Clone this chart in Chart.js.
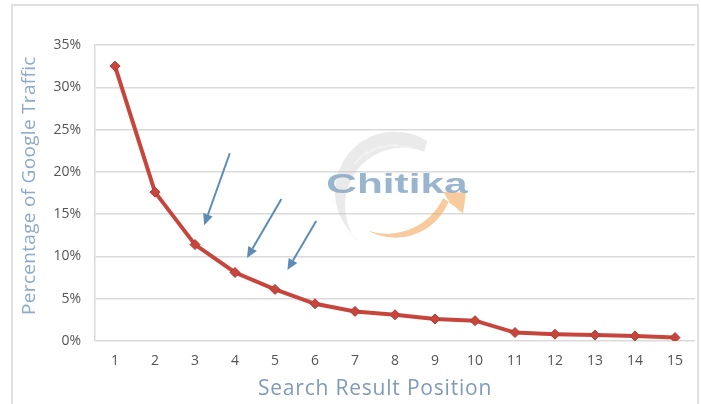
<!DOCTYPE html>
<html>
<head>
<meta charset="utf-8">
<script src="https://cdn.jsdelivr.net/npm/chart.js@4.4.1/dist/chart.umd.min.js"></script>
<style>
  html, body { margin: 0; padding: 0; background: #ffffff; }
  #wrap { width: 701px; height: 404px; position: relative; }
</style>
</head>
<body>
<div id="wrap"><canvas id="chart" width="701" height="404"></canvas></div>
<script>
// Share of Google traffic by organic search result position
const positions = ['1','2','3','4','5','6','7','8','9','10','11','12','13','14','15'];
const trafficShare = [32.5, 17.6, 11.4, 8.1, 6.1, 4.4, 3.5, 3.1, 2.6, 2.4, 1.0, 0.8, 0.7, 0.6, 0.4];
const yTicks = [0, 5, 10, 15, 20, 25, 30, 35];
const xAxisTitle = 'Search Result Position';
const yAxisTitle = 'Percentage of Google Traffic';

// Pointer arrows, given in data space: [fromPos, fromPct, toPos, toPct]
const pointerArrows = [
  [3.87, 22.2, 3.23, 13.7],
  [5.16, 16.8, 4.30, 9.8],
  [6.03, 14.2, 5.31, 8.4]
];
// Anchor of the Chitika mark, in data space
const logoAnchor = [7.95, 18.6];

const framePlugin = {
  id: 'frame',
  beforeDraw(chart) {
    const ctx = chart.ctx;
    ctx.save();
    ctx.fillStyle = '#ffffff';
    ctx.fillRect(0, 0, chart.width, chart.height);
    ctx.strokeStyle = '#e0e0e0';
    ctx.lineWidth = 2;
    ctx.beginPath();
    ctx.moveTo(12, chart.height);
    ctx.lineTo(12, 5);
    ctx.lineTo(chart.width - 3, 5);
    ctx.lineTo(chart.width - 3, chart.height);
    ctx.stroke();
    ctx.restore();
  },
  afterDraw(chart) {
    // axis captions
    const ctx = chart.ctx;
    ctx.save();
    ctx.textAlign = 'center';
    ctx.textBaseline = 'middle';
    ctx.fillStyle = '#7f9bb8';
    ctx.font = '21px "Open Sans", sans-serif';
    ctx.letterSpacing = '0.8px';
    ctx.fillText(xAxisTitle, chart.width * 0.535, chart.height - 15);
    ctx.fillStyle = '#8dabc8';
    ctx.font = '19px "Open Sans", sans-serif';
    ctx.letterSpacing = '0.3px';
    ctx.translate(30, chart.chartArea.top + (chart.chartArea.bottom - chart.chartArea.top) * 0.475);
    ctx.rotate(-Math.PI / 2);
    ctx.fillText(yAxisTitle, 0, 0);
    ctx.restore();
  }
};

const decorPlugin = {
  id: 'decor',
  beforeDatasetsDraw(chart) {
    const ctx = chart.ctx;
    const xs = chart.scales.x, ys = chart.scales.y;
    const px = v => xs.getPixelForValue(v - 1);
    const py = v => ys.getPixelForValue(v);

    // Chitika watermark
    const cx = px(logoAnchor[0]), cy = py(logoAnchor[1]);
    ctx.save();
    // grey crescent (upper left), heavy at the top and tapering down the left
    ctx.globalAlpha = 0.35;
    ctx.fillStyle = '#c4c4c4';
    ctx.beginPath();
    ctx.arc(cx + 2, cy + 8, 60, Math.PI * 0.75, Math.PI * 1.68);
    ctx.arc(cx + 10, cy + 22, 58, Math.PI * 1.62, Math.PI * 0.77, true);
    ctx.closePath();
    ctx.fill();
    ctx.strokeStyle = '#ffffff';
    ctx.lineWidth = 2;
    for (let k = 0; k < 4; k++) {
      ctx.beginPath();
      ctx.arc(cx + 6, cy + 14, 56 - k * 1.5, Math.PI * (1.2 + k * 0.09), Math.PI * (1.31 + k * 0.09));
      ctx.stroke();
    }
    // orange crescent with arrow tip (lower right)
    ctx.globalAlpha = 0.6;
    ctx.fillStyle = '#f2a85e';
    ctx.beginPath();
    ctx.arc(cx + 2, cy - 4, 58, Math.PI * 0.6, Math.PI * 0.12, true);
    ctx.lineTo(cx + 50, cy + 8);
    ctx.lineTo(cx + 73, cy + 9);
    ctx.lineTo(cx + 70, cy + 30);
    ctx.lineTo(cx + 62, cy + 23);
    ctx.arc(cx - 6, cy - 12, 62, Math.PI * 0.14, Math.PI * 0.6);
    ctx.closePath();
    ctx.fill();
    // wordmark
    ctx.globalAlpha = 0.85;
    ctx.fillStyle = '#86a8c4';
    ctx.font = 'bold 27px "Liberation Sans", Arial, sans-serif';
    ctx.textAlign = 'center';
    ctx.textBaseline = 'alphabetic';
    ctx.translate(cx + 4, cy + 9);
    ctx.scale(1.57, 1);
    ctx.fillText('Chitika', 0, 0);
    ctx.restore();

    // pointer arrows
    ctx.save();
    ctx.strokeStyle = '#5d8cb6';
    ctx.fillStyle = '#5d8cb6';
    ctx.lineWidth = 2;
    pointerArrows.forEach(a => {
      const x1 = px(a[0]), y1 = py(a[1]), x2 = px(a[2]), y2 = py(a[3]);
      const ang = Math.atan2(y2 - y1, x2 - x1);
      const hl = 11, hw = 5;
      const bx = x2 - hl * Math.cos(ang), by = y2 - hl * Math.sin(ang);
      ctx.beginPath();
      ctx.moveTo(x1, y1);
      ctx.lineTo(bx, by);
      ctx.stroke();
      ctx.beginPath();
      ctx.moveTo(x2, y2);
      ctx.lineTo(bx + hw * Math.sin(ang), by - hw * Math.cos(ang));
      ctx.lineTo(bx - hw * Math.sin(ang), by + hw * Math.cos(ang));
      ctx.closePath();
      ctx.fill();
    });
    ctx.restore();
  }
};

new Chart(document.getElementById('chart'), {
  type: 'line',
  data: {
    labels: positions,
    datasets: [{
      data: trafficShare,
      borderColor: '#c6463d',
      backgroundColor: '#c6463d',
      borderWidth: 4,
      tension: 0,
      pointStyle: 'rectRot',
      pointRadius: 5,
      pointBorderWidth: 1,
      pointBackgroundColor: '#c6463d',
      pointBorderColor: '#b23a33'
    }]
  },
  options: {
    responsive: false,
    animation: false,
    devicePixelRatio: 1,
    layout: { padding: { top: 45, right: 0, bottom: 0, left: 0 } },
    plugins: { legend: { display: false }, tooltip: { enabled: false } },
    scales: {
      x: {
        offset: true,
        grid: { display: false, drawTicks: false },
        border: { display: false },
        ticks: {
          padding: 12,
          color: '#555555',
          font: { family: '"Open Sans", sans-serif', size: 14 }
        },
        afterFit(scale) { scale.height = 63; }
      },
      y: {
        min: 0,
        max: 35,
        afterBuildTicks(scale) { scale.ticks = yTicks.map(v => ({ value: v })); },
        grid: { color: '#dadada', lineWidth: 1.5, drawTicks: false },
        border: { display: true, color: '#dadada', width: 1.5 },
        ticks: {
          padding: 14,
          color: '#555555',
          font: { family: '"Open Sans", sans-serif', size: 14 },
          callback: v => v + '%'
        },
        afterFit(scale) { scale.width = 95; }
      }
    }
  },
  plugins: [framePlugin, decorPlugin]
});
</script>
</body>
</html>
